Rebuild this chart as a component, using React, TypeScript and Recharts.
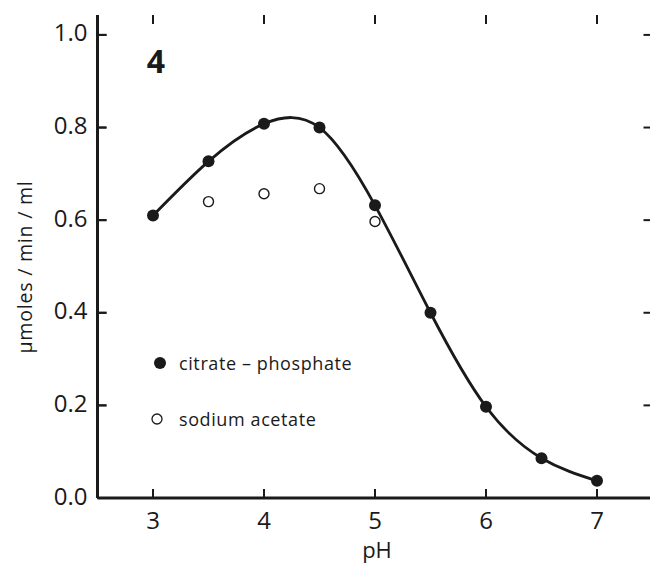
import React from "react";
import {
  ComposedChart,
  Line,
  XAxis,
  YAxis,
  Legend,
  Customized,
  ReferenceLine,
} from "recharts";

const phValues = [3, 3.5, 4, 4.5, 5, 5.5, 6, 6.5, 7];
const citratePhosphate = [0.61, 0.727, 0.808, 0.8, 0.632, 0.4, 0.197, 0.086, 0.037];
const sodiumAcetate = [null, 0.64, 0.657, 0.668, 0.597, null, null, null, null];
const xTicks = [3, 4, 5, 6, 7];
const yTicks = [0, 0.2, 0.4, 0.6, 0.8, 1.0];
const panelLabel = "4";
const xLabel = "pH";
const yLabel = "\u03bcmoles / min / ml";
const seriesNames = ["citrate \u2013 phosphate", "sodium acetate"];

const X_DOMAIN: [number, number] = [2.5, 7.5];
const Y_DOMAIN: [number, number] = [0, 1.043];

const data = phValues.map((ph, i) => ({
  ph,
  citrate: citratePhosphate[i],
  acetate: sodiumAcetate[i],
}));

const FONT = "'Open Sans', 'DejaVu Sans', sans-serif";
const INK = "#1a1a1a";
const TICK_LEN = 9;
// inward tick lengths expressed in data units (plot is 555 px wide, 483 px tall)
const X_TICK_DATA = (TICK_LEN / 555) * (X_DOMAIN[1] - X_DOMAIN[0]);
const Y_TICK_DATA = (TICK_LEN / 483) * (Y_DOMAIN[1] - Y_DOMAIN[0]);
const tickLineStyle = { stroke: INK, strokeWidth: 2 };
const axisLineStyle = { stroke: INK, strokeWidth: 3 };

const BottomTick = (p: any) => (
  <text x={p.x} y={p.y + 21} textAnchor="middle" dominantBaseline="central" fontSize={24} fontFamily={FONT} fill={INK}>
    {p.payload.value}
  </text>
);
const NoLabel = () => <g />;
const LeftTick = (p: any) => (
  <text x={p.x - 10} y={p.y - 3} textAnchor="end" dominantBaseline="central" fontSize={24} fontFamily={FONT} fill={INK}>
    {Number(p.payload.value).toFixed(1)}
  </text>
);

const FilledDot = (p: any) =>
  p.value == null ? <g key={p.index} /> : <circle key={p.index} cx={p.cx} cy={p.cy} r={6} fill={INK} />;
const OpenDot = (p: any) =>
  p.value == null ? <g key={p.index} /> : (
    <circle key={p.index} cx={p.cx} cy={p.cy} r={5} fill="#fff" stroke={INK} strokeWidth={1.4} />
  );

const LegendContent = () => (
  <div style={{ fontFamily: FONT, fontSize: 18, letterSpacing: 0.6, color: INK, lineHeight: "22px" }}>
    <div style={{ display: "flex", alignItems: "center", height: 22 }}>
      <svg width={14} height={14} style={{ marginRight: 12 }}>
        <circle cx={7} cy={7} r={6} fill={INK} />
      </svg>
      <span>{seriesNames[0]}</span>
    </div>
    <div style={{ display: "flex", alignItems: "center", height: 22, marginTop: 34 }}>
      <svg width={14} height={14} style={{ marginRight: 12, marginLeft: -3 }}>
        <circle cx={7} cy={7} r={5} fill="#fff" stroke={INK} strokeWidth={1.3} />
      </svg>
      <span style={{ marginLeft: 3 }}>{seriesNames[1]}</span>
    </div>
  </div>
);

const Texts = () => (
  <g>
    <text x={156} y={60} textAnchor="middle" dominantBaseline="central" fontSize={32} fontWeight="bold" fontFamily={FONT} fill={INK}>
      {panelLabel}
    </text>
    <text x={377} y={549} textAnchor="middle" dominantBaseline="central" fontSize={22} fontFamily={FONT} fill={INK}>
      {xLabel}
    </text>
    <text
      x={24}
      y={267}
      textAnchor="middle"
      dominantBaseline="central"
      fontSize={19.5}
      letterSpacing={0.8}
      fontFamily={FONT}
      fill={INK}
      transform="rotate(-90 24 267)"
    >
      {yLabel}
    </text>
  </g>
);

export default function App() {
  return (
    <div style={{ position: "absolute", left: 0, top: 0, width: 650, height: 563, overflow: "hidden", background: "#fff" }}>
      <ComposedChart
        width={660}
        height={563}
        data={data}
        margin={{ top: 15, right: 7.5, bottom: 0, left: 0 }}
      >
        <XAxis
          xAxisId="bottom"
          dataKey="ph"
          type="number"
          domain={X_DOMAIN}
          ticks={xTicks}
          height={65}
          stroke={INK}
          tickSize={-TICK_LEN}
          tickMargin={TICK_LEN}
          tickLine={tickLineStyle}
          axisLine={axisLineStyle}
          tick={BottomTick}
          interval={0}
        />
        <XAxis
          xAxisId="top"
          orientation="top"
          dataKey="ph"
          type="number"
          domain={X_DOMAIN}
          ticks={xTicks}
          height={0}
          stroke={INK}
          tickSize={-TICK_LEN}
          tickMargin={0}
          tickLine={tickLineStyle}
          axisLine={axisLineStyle}
          tick={NoLabel}
          interval={0}
        />
        <YAxis
          yAxisId="left"
          type="number"
          domain={Y_DOMAIN}
          ticks={yTicks}
          width={97.5}
          stroke={INK}
          tickSize={-TICK_LEN}
          tickMargin={TICK_LEN}
          tickLine={tickLineStyle}
          axisLine={axisLineStyle}
          tick={LeftTick}
          interval={0}
        />
        <YAxis
          yAxisId="right"
          orientation="right"
          type="number"
          domain={Y_DOMAIN}
          ticks={yTicks}
          width={0}
          stroke={INK}
          tickSize={-TICK_LEN}
          tickMargin={0}
          tickLine={tickLineStyle}
          axisLine={axisLineStyle}
          tick={NoLabel}
          interval={0}
        />
        {xTicks.map((t) => (
          <ReferenceLine
            key={`b${t}`}
            xAxisId="bottom"
            yAxisId="left"
            segment={[{ x: t, y: Y_DOMAIN[0] }, { x: t, y: Y_DOMAIN[0] + Y_TICK_DATA }]}
            stroke={INK}
            strokeWidth={2}
            ifOverflow="visible"
          />
        ))}
        {xTicks.map((t) => (
          <ReferenceLine
            key={`t${t}`}
            xAxisId="bottom"
            yAxisId="left"
            segment={[{ x: t, y: Y_DOMAIN[1] }, { x: t, y: Y_DOMAIN[1] - Y_TICK_DATA }]}
            stroke={INK}
            strokeWidth={2}
            ifOverflow="visible"
          />
        ))}
        {yTicks.map((t) => (
          <ReferenceLine
            key={`l${t}`}
            xAxisId="bottom"
            yAxisId="left"
            segment={[{ x: X_DOMAIN[0], y: t }, { x: X_DOMAIN[0] + X_TICK_DATA, y: t }]}
            stroke={INK}
            strokeWidth={2}
            ifOverflow="visible"
          />
        ))}
        {yTicks.map((t) => (
          <ReferenceLine
            key={`r${t}`}
            xAxisId="bottom"
            yAxisId="left"
            segment={[{ x: X_DOMAIN[1], y: t }, { x: X_DOMAIN[1] - X_TICK_DATA, y: t }]}
            stroke={INK}
            strokeWidth={2}
            ifOverflow="visible"
          />
        ))}
        <Line
          xAxisId="bottom"
          yAxisId="left"
          dataKey="citrate"
          type="natural"
          stroke={INK}
          strokeWidth={2.8}
          dot={FilledDot}
          activeDot={false}
          isAnimationActive={false}
        />
        <Line
          xAxisId="bottom"
          yAxisId="left"
          dataKey="acetate"
          stroke="none"
          dot={OpenDot}
          activeDot={false}
          isAnimationActive={false}
        />
        <Legend
          layout="vertical"
          align="center"
          verticalAlign="middle"
          content={LegendContent}
          wrapperStyle={{ position: "absolute", left: 153, top: 352, width: 280 }}
        />
        <Customized component={Texts} />
      </ComposedChart>
    </div>
  );
}
